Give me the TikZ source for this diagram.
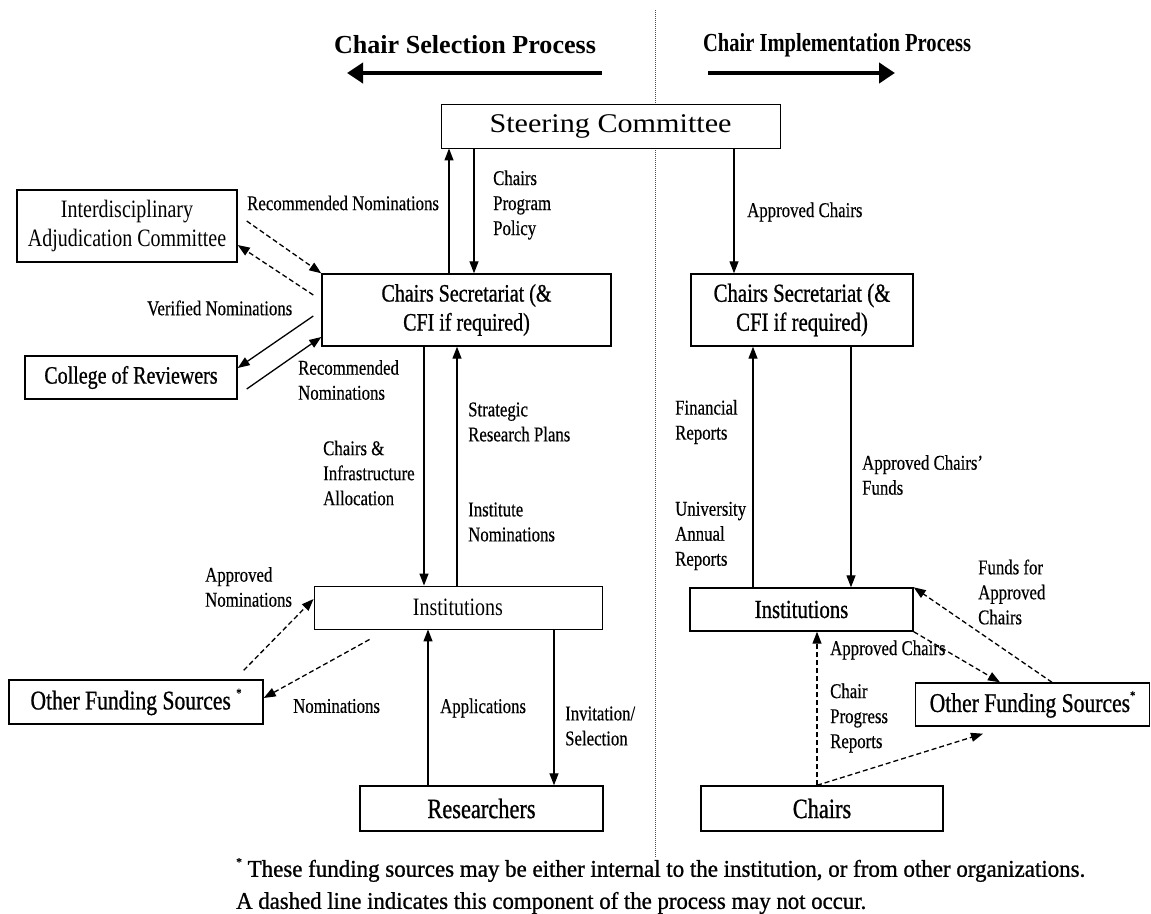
\documentclass[tikz,border=0pt]{standalone}
\usepackage{fontspec}
\usepackage{graphicx}
\setmainfont{Liberation Serif}
\newfontfamily\cnd[FakeStretch=0.8]{Liberation Serif}
\newfontfamily\cndb[FakeStretch=0.8,FakeBold=0.8]{Liberation Serif}
\newfontfamily\cndl[FakeStretch=0.8,FakeBold=0.35]{Liberation Serif}
\usetikzlibrary{arrows.meta,calc}
\begin{document}
\begin{tikzpicture}[x=1pt,y=-1pt,
  box/.style={draw,line width=1.4pt,fill=white,inner sep=0pt,align=center,font=\cndb\fontsize{25}{29}\selectfont},
  thinbox/.style={box,line width=0.9pt,font=\cnd\fontsize{25}{29}\selectfont},
  lbl/.style={anchor=west,align=left,inner sep=0pt,font=\cndl\fontsize{21}{25}\selectfont},
  arr/.style={line width=1.3pt,-{Triangle[length=12pt,width=9pt]}},
  darr/.style={arr,dash pattern=on 5pt off 3pt},
  bigarr/.style={line width=4pt,-{Triangle[length=16pt,width=20pt]}},
  head/.style={inner sep=0pt,font=\bfseries\fontsize{26}{28}\selectfont}]
\useasboundingbox (0,0) rectangle (1151,913);
% divider
\coordinate (dtop) at (655,10);
\coordinate (dbot) at (655,858);
\draw[black!70,line width=0.7pt,dash pattern=on 1pt off 1pt] (dtop) -- (dbot);
% headers
\node[head] (hsel) at (465,45) {\resizebox{262pt}{\height}{Chair Selection Process}};
\node[head] (himp) at (837,45) {\resizebox{268pt}{\height}{Chair Implementation Process}};
\coordinate (sa1) at (602,73); \coordinate (sa2) at (347,73);
\coordinate (ia1) at (708,73); \coordinate (ia2) at (895,73);
\draw[bigarr] (sa1) -- (sa2);
\draw[bigarr] (ia1) -- (ia2);
% boxes
\node[thinbox,minimum width=339,minimum height=44] (sc) at (610.5,126) {\resizebox{242pt}{\height}{\rmfamily\fontsize{27}{30}\selectfont Steering Committee}};
\node[box,minimum width=289,minimum height=72] (csl) at (466.5,310) {Chairs Secretariat (\&\\CFI if required)};
\node[box,minimum width=220,minimum height=72,font=\cnd\fontsize{25}{29}\selectfont] (iac) at (127,226) {Interdisciplinary\\Adjudication Committee};
\node[box,minimum width=212,minimum height=43] (cor) at (131,377.5) {College of Reviewers};
\node[thinbox,minimum width=288,minimum height=43] (instl) at (458,607.5) {Institutions};
\node[box,minimum width=254,minimum height=44,font=\cndb\fontsize{27}{30}\selectfont] (ofsl) at (136,702) {Other Funding Sources\ \raisebox{0.45em}{\fontsize{13}{13}\selectfont *}};
\node[box,minimum width=243,minimum height=45,font=\cndb\fontsize{28}{30}\selectfont] (res) at (481.5,808.5) {Researchers};
\node[box,minimum width=222,minimum height=72,font=\cndb\fontsize{26}{29}\selectfont] (csr) at (802,310) {Chairs Secretariat (\&\\CFI if required)};
\node[box,minimum width=223,minimum height=43,font=\cndb\fontsize{26}{29}\selectfont] (instr) at (801.5,609.5) {Institutions};
\node[box,minimum width=234,minimum height=43,font=\cndb\fontsize{27}{30}\selectfont] (ofsr) at (1032.5,704.5) {Other Funding Sources\raisebox{0.45em}{\fontsize{13}{13}\selectfont *}};
\node[box,minimum width=242,minimum height=45,font=\cndb\fontsize{28}{30}\selectfont] (chairs) at (822,808.5) {Chairs};
% left connectors
\draw[arr] (449,0 |- csl.north) -- (449,0 |- sc.south);
\draw[arr] (474,0 |- sc.south) -- (474,0 |- csl.north);
\draw[darr] ([shift={(9,-5)}]iac.east) -- (csl.north west);
\draw[darr] ([shift={(-8,-15)}]csl.west) -- ([shift={(0,19)}]iac.east);
\draw[arr] ([shift={(-8,6)}]csl.west) -- ([shift={(0,-9.5)}]cor.east);
\draw[arr] ([shift={(9,11.5)}]cor.east) -- ([shift={(0,27)}]csl.west);
\draw[arr] (424,0 |- csl.south) -- (424,0 |- instl.north);
\draw[arr] (457,0 |- instl.north) -- (457,0 |- csl.south);
\draw[darr] ([shift={(-20,-9)}]ofsl.north east) -- ([shift={(0,-8.5)}]instl.west);
\draw[darr] ([shift={(56,10)}]instl.south west) -- ([shift={(0,-4)}]ofsl.east);
\draw[arr] (428,0 |- res.north) -- (428,0 |- instl.south);
\draw[arr] (554,0 |- instl.south) -- (554,0 |- res.north);
% right connectors
\draw[arr] (734,0 |- sc.south) -- (734,0 |- csr.north);
\draw[arr] (753,0 |- instr.north) -- (753,0 |- csr.south);
\draw[arr] (851,0 |- csr.south) -- (851,0 |- instr.north);
\draw[darr] (1052,0 |- ofsr.north) -- (instr.north east);
\draw[darr] (instr.south east) -- (1000,0 |- ofsr.north);
\draw[darr] (817,0 |- chairs.north) -- (817,0 |- instr.south);
\draw[darr] (817,0 |- chairs.north) -- ([shift={(0,7)}]983,0 |- ofsr.south);
% labels
\node[lbl] (l1) at (247,203) {Recommended Nominations};
\node[lbl] (l2) at (493,205) {Chairs\\Program\\Policy};
\node[lbl] (l3) at (747,212) {Approved Chairs};
\node[lbl] (l4) at (147,308) {Verified Nominations};
\node[lbl] (l5) at (298,380) {Recommended\\Nominations};
\node[lbl] (l6) at (468,422) {Strategic\\Research Plans};
\node[lbl] (l7) at (323,473) {Chairs \&\\Infrastructure\\Allocation};
\node[lbl] (l8) at (468,522) {Institute\\Nominations};
\node[lbl] (l9) at (205,587) {Approved\\Nominations};
\node[lbl] (l10) at (293,706) {Nominations};
\node[lbl] (l11) at (440,708) {Applications};
\node[lbl] (l12) at (565,726) {Invitation/\\Selection};
\node[lbl] (l13) at (675,422) {Financial\\Reports};
\node[lbl] (l14) at (862,475) {Approved Chairs’\\Funds};
\node[lbl] (l15) at (675,536) {University\\Annual\\Reports};
\node[lbl] (l16) at (978,592) {Funds for\\Approved\\Chairs};
\node[lbl] (l17) at (830,650) {Approved Chairs};
\node[lbl] (l18) at (830,718) {Chair\\Progress\\Reports};
% footnotes
\node[anchor=west,inner sep=0pt] (fn1) at (236,870) {\resizebox{849pt}{\height}{\cndb\fontsize{24}{26}\selectfont\raisebox{0.45em}{\fontsize{12}{12}\selectfont *}\ These funding sources may be either internal to the institution, or from other organizations.}};
\node[anchor=west,inner sep=0pt] (fn2) at (236,903) {\resizebox{630pt}{\height}{\cndb\fontsize{24}{26}\selectfont A dashed line indicates this component of the process may not occur.}};
\end{tikzpicture}
\end{document}
